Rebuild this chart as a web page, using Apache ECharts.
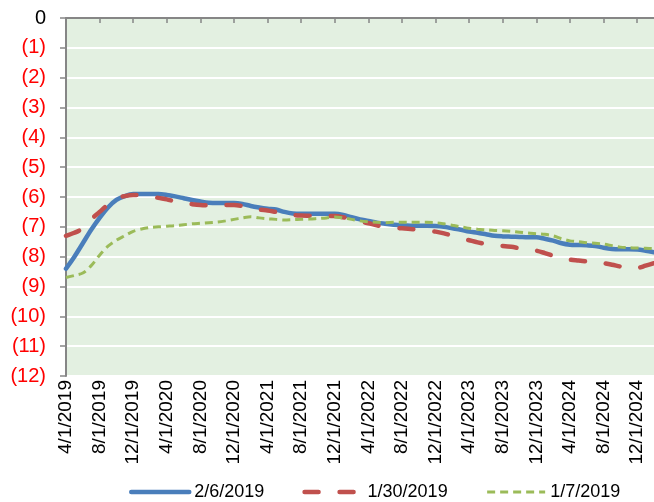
<!DOCTYPE html>
<html>
<head>
<meta charset="utf-8">
<script src="https://cdn.jsdelivr.net/npm/echarts@6/dist/echarts.min.js"></script>
<style>
html,body{margin:0;padding:0;background:#fff;}
#chart{width:654px;height:502px;}
</style>
</head>
<body>
<div id="chart"></div>
<script>
const categories = [
'4/1/2019','5/1/2019','6/1/2019','7/1/2019','8/1/2019','9/1/2019','10/1/2019','11/1/2019','12/1/2019',
'1/1/2020','2/1/2020','3/1/2020','4/1/2020','5/1/2020','6/1/2020','7/1/2020','8/1/2020','9/1/2020','10/1/2020','11/1/2020','12/1/2020',
'1/1/2021','2/1/2021','3/1/2021','4/1/2021','5/1/2021','6/1/2021','7/1/2021','8/1/2021','9/1/2021','10/1/2021','11/1/2021','12/1/2021',
'1/1/2022','2/1/2022','3/1/2022','4/1/2022','5/1/2022','6/1/2022','7/1/2022','8/1/2022','9/1/2022','10/1/2022','11/1/2022','12/1/2022',
'1/1/2023','2/1/2023','3/1/2023','4/1/2023','5/1/2023','6/1/2023','7/1/2023','8/1/2023','9/1/2023','10/1/2023','11/1/2023','12/1/2023',
'1/1/2024','2/1/2024','3/1/2024','4/1/2024','5/1/2024','6/1/2024','7/1/2024','8/1/2024','9/1/2024','10/1/2024','11/1/2024','12/1/2024',
'1/1/2025','2/1/2025'
];
const seriesNames = ['2/6/2019','1/30/2019','1/7/2019'];
const s_2_6_2019 = [
-8.4,-8.0,-7.55,-7.1,-6.7,-6.35,-6.1,-5.97,-5.9,-5.9,-5.9,-5.9,
-5.93,-5.98,-6.04,-6.1,-6.15,-6.19,-6.2,-6.2,-6.2,-6.23,-6.3,-6.35,
-6.39,-6.42,-6.5,-6.55,-6.56,-6.56,-6.56,-6.56,-6.56,-6.6,-6.68,-6.75,
-6.8,-6.86,-6.9,-6.93,-6.95,-6.96,-6.96,-6.96,-6.97,-7.0,-7.05,-7.1,
-7.16,-7.2,-7.25,-7.3,-7.32,-7.33,-7.34,-7.35,-7.35,-7.4,-7.46,-7.55,
-7.6,-7.61,-7.62,-7.64,-7.7,-7.74,-7.75,-7.75,-7.76,-7.8,-7.85
];
const s_1_30_2019 = [
-7.3,-7.2,-7.05,-6.75,-6.5,-6.25,-6.05,-5.97,-5.93,-5.93,-5.97,-6.03,
-6.08,-6.15,-6.2,-6.24,-6.27,-6.28,-6.28,-6.27,-6.27,-6.3,-6.35,-6.42,
-6.45,-6.5,-6.55,-6.6,-6.62,-6.63,-6.64,-6.64,-6.64,-6.68,-6.75,-6.82,
-6.88,-6.95,-7.0,-7.03,-7.05,-7.07,-7.1,-7.13,-7.16,-7.22,-7.3,-7.38,
-7.45,-7.52,-7.58,-7.62,-7.64,-7.67,-7.72,-7.77,-7.8,-7.88,-7.97,-8.05,
-8.1,-8.13,-8.16,-8.19,-8.22,-8.27,-8.33,-8.38,-8.38,-8.3,-8.22
];
const s_1_7_2019 = [
-8.7,-8.63,-8.55,-8.3,-7.95,-7.65,-7.45,-7.3,-7.15,-7.07,-7.02,-7.0,
-6.98,-6.96,-6.93,-6.9,-6.88,-6.86,-6.84,-6.8,-6.75,-6.7,-6.66,-6.7,
-6.73,-6.75,-6.77,-6.76,-6.75,-6.74,-6.72,-6.7,-6.67,-6.7,-6.75,-6.8,
-6.83,-6.85,-6.86,-6.85,-6.85,-6.85,-6.85,-6.85,-6.86,-6.9,-6.95,-7.0,
-7.05,-7.08,-7.1,-7.12,-7.13,-7.15,-7.18,-7.21,-7.23,-7.25,-7.3,-7.4,
-7.47,-7.5,-7.53,-7.55,-7.58,-7.63,-7.68,-7.7,-7.71,-7.72,-7.73
];
const yTickValues = [0,-1,-2,-3,-4,-5,-6,-7,-8,-9,-10,-11,-12];
const yTickLabels = ['0','(1)','(2)','(3)','(4)','(5)','(6)','(7)','(8)','(9)','(10)','(11)','(12)'];

const FONT = 'Liberation Sans, Arial, sans-serif';
const chart = echarts.init(document.getElementById('chart'), null, {renderer:'canvas'});
const axisGray = '#868686';
const colors = ['#4A7EBB', '#C0504D', '#9BBB59'];
chart.setOption({
  animation: false,
  textStyle: {fontFamily: FONT},
  grid: {left: 66, top: 18, right: -6, bottom: 126, show: true, backgroundColor: '#E3F0E1', borderWidth: 0},
  legend: {
    data: [
      {name: seriesNames[0], lineStyle: {width: 4.5, color: colors[0], cap: 'round'}},
      {name: seriesNames[1], lineStyle: {width: 4.5, color: colors[1], type: [14, 21], cap: 'round'}},
      {name: seriesNames[2], lineStyle: {width: 3, color: colors[2], type: [8, 5]}}
    ],
    left: 124, top: 478, itemWidth: 58, itemHeight: 14, itemGap: 38,
    itemStyle: {opacity: 0},
    textStyle: {fontFamily: FONT, fontSize: 18, color: '#000'}
  },
  xAxis: [
    {type: 'category', data: categories, position: 'top', boundaryGap: false,
     axisLine: {show: true, onZero: false, lineStyle: {color: axisGray, width: 2}},
     axisTick: {show: true, inside: true, interval: 3, length: 5, lineStyle: {color: axisGray, width: 1.5}},
     axisLabel: {show: false}, splitLine: {show: false}},
    {type: 'category', data: categories, position: 'bottom', boundaryGap: false,
     axisLine: {show: false, onZero: false}, axisTick: {show: false},
     axisLabel: {show: true, interval: 3, rotate: 90, margin: 4, fontSize: 19, color: '#000', fontFamily: FONT, padding: [0, 0, 7, 0]},
     splitLine: {show: false}}
  ],
  yAxis: {
    type: 'value', min: -12, max: 0, interval: 1,
    axisLine: {show: true, lineStyle: {color: axisGray, width: 2}},
    axisTick: {show: true, length: 6, lineStyle: {color: axisGray, width: 1.5}},
    splitLine: {show: true, lineStyle: {color: '#ffffff', width: 2}},
    axisLabel: {
      margin: 20, fontSize: 20, fontFamily: FONT,
      formatter: function (v) { const i = yTickValues.indexOf(v); return i >= 0 ? yTickLabels[i] : ''; },
      color: function (v) { return Number(v) === 0 ? '#000000' : '#FF0000'; }
    }
  },
  series: [
    {name: seriesNames[0], type: 'line', data: s_2_6_2019, xAxisIndex: 0, symbol: 'none', smooth: 0.3,
     lineStyle: {color: colors[0], width: 4.5, cap: 'round', join: 'round'}, itemStyle: {color: colors[0]}, z: 3},
    {name: seriesNames[1], type: 'line', data: s_1_30_2019, xAxisIndex: 0, symbol: 'none', smooth: 0.3,
     lineStyle: {color: colors[1], width: 4.5, type: [14, 21], cap: 'round', join: 'round'}, itemStyle: {color: colors[1]}, z: 4},
    {name: seriesNames[2], type: 'line', data: s_1_7_2019, xAxisIndex: 0, symbol: 'none', smooth: 0.3,
     lineStyle: {color: colors[2], width: 3, type: [8, 5], cap: 'butt'}, itemStyle: {color: colors[2]}, z: 5}
  ]
});
</script>
</body>
</html>
